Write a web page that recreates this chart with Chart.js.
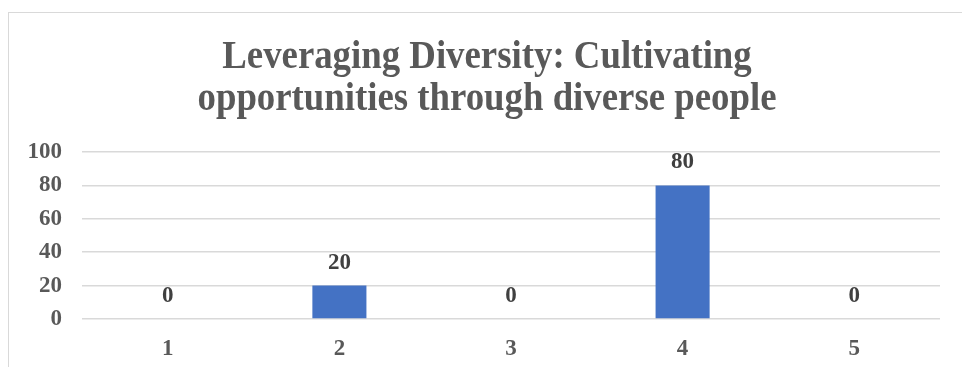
<!DOCTYPE html>
<html>
<head>
<meta charset="utf-8">
<script src="https://cdn.jsdelivr.net/npm/chart.js@4.4.0/dist/chart.umd.min.js"></script>
<style>
  html, body { margin: 0; padding: 0; background: #fff; overflow: hidden; }
  .frame {
    position: absolute; left: 8px; top: 12px; width: 1000px; height: 400px;
    border: 1.5px solid #d9d9d9; box-sizing: border-box;
  }
  .chart-box { position: absolute; left: 0; top: 0; width: 962px; height: 367px; }
</style>
</head>
<body>
<div class="frame"></div>
<div class="chart-box">
  <canvas id="barChart" width="962" height="367"></canvas>
</div>
<script>
// chart values
const categories = ['1', '2', '3', '4', '5'];
const values = [0, 20, 0, 80, 0];
const titleLines = ['Leveraging Diversity: Cultivating', 'opportunities through diverse people'];
const yTicks = [0, 20, 40, 60, 80, 100];

const serif = '"Liberation Serif", "Times New Roman", serif';

// title drawn by hand, a bit condensed like the original
const titlePlugin = {
  id: 'titleLines',
  afterDraw(chart) {
    const ctx = chart.ctx;
    const baselines = [68, 110];
    ctx.save();
    ctx.font = 'bold 40px ' + serif;
    ctx.fillStyle = '#595959';
    ctx.textAlign = 'center';
    ctx.textBaseline = 'alphabetic';
    titleLines.forEach((line, i) => {
      ctx.save();
      ctx.translate(487, baselines[i]);
      ctx.scale(0.92, 1);
      ctx.fillText(line, 0, 0);
      ctx.restore();
    });
    ctx.restore();
  }
};

// value labels above each bar
const valueLabels = {
  id: 'valueLabels',
  afterDatasetsDraw(chart) {
    const ctx = chart.ctx;
    const meta = chart.getDatasetMeta(0);
    ctx.save();
    ctx.font = 'bold 23px ' + serif;
    ctx.fillStyle = '#404040';
    ctx.textAlign = 'center';
    ctx.textBaseline = 'middle';
    meta.data.forEach((bar, i) => {
      ctx.fillText(String(values[i]), bar.x, bar.y - 23);
    });
    ctx.restore();
  }
};

new Chart(document.getElementById('barChart'), {
  type: 'bar',
  data: {
    labels: categories,
    datasets: [{
      data: values,
      backgroundColor: '#4472C4',
      borderWidth: 0,
      categoryPercentage: 1,
      barPercentage: 0.315
    }]
  },
  options: {
    responsive: false,
    animation: false,
    devicePixelRatio: 1,
    layout: { padding: { top: 152, right: 22, left: 0, bottom: 0 } },
    plugins: {
      legend: { display: false },
      tooltip: { enabled: false },
      title: { display: false }
    },
    scales: {
      x: {
        grid: { display: false, drawTicks: false },
        border: { display: false },
        ticks: {
          padding: 16,
          color: '#595959',
          font: { family: serif, size: 23, weight: 'bold' }
        },
        afterFit(scale) { scale.height = 48; }
      },
      y: {
        min: 0,
        max: 100,
        afterBuildTicks(scale) { scale.ticks = yTicks.map(v => ({ value: v })); },
        grid: { color: '#d9d9d9', lineWidth: 1.5, drawTicks: false },
        border: { display: false },
        ticks: {
          padding: 20,
          color: '#595959',
          font: { family: serif, size: 23, weight: 'bold' }
        },
        afterFit(scale) { scale.width = 82; }
      }
    }
  },
  plugins: [titlePlugin, valueLabels]
});
</script>
</body>
</html>
